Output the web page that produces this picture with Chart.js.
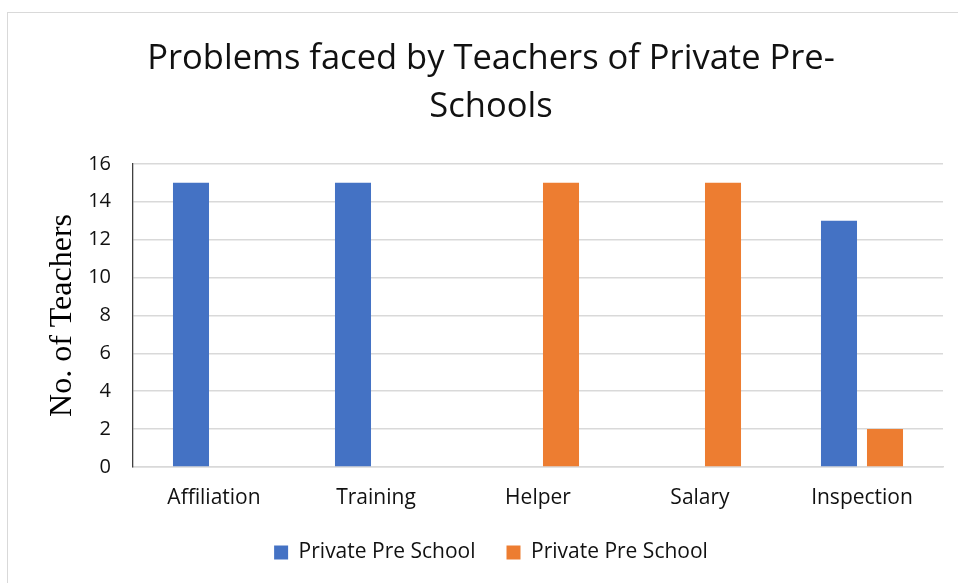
<!DOCTYPE html>
<html>
<head>
<meta charset="utf-8">
<title>Problems faced by Teachers of Private Pre-Schools</title>
<script src="https://cdn.jsdelivr.net/npm/chart.js@4.4.1/dist/chart.umd.min.js"></script>
<style>
  html, body { margin: 0; padding: 0; background: #fff; overflow: hidden; }
  #frame {
    position: absolute; left: 7px; top: 12px; width: 1000px; height: 700px;
    border-left: 1px solid #d9d9d9; border-top: 1px solid #d9d9d9;
  }
  #wrap { position: absolute; left: 0; top: 0; width: 958px; height: 583px; }
</style>
</head>
<body>
<div id="frame"></div>
<div id="wrap"><canvas id="mainCanvas" width="958" height="583"></canvas></div>
<script>
// bar chart: problems reported by private pre-school teachers

const problemLabels = ['Affiliation', 'Training', 'Helper', 'Salary', 'Inspection'];
const firstSeries = [15, 15, 0, 0, 13];
const secondSeries = [0, 0, 15, 15, 2];
const seriesNames = ['Private Pre School', 'Private Pre School'];
const yTicks = [0, 2, 4, 6, 8, 10, 12, 14, 16];

const sans = "'Open Sans', 'Noto Sans', sans-serif";
const serif = "'Liberation Serif', 'Times New Roman', serif";

document.addEventListener('DOMContentLoaded', () => {
  const ctx = document.getElementById('mainCanvas').getContext('2d');

  const config = {
    type: 'bar',
    data: {
      labels: problemLabels,
      datasets: [
        {
          label: seriesNames[0],
          data: firstSeries,
          backgroundColor: '#4472C4',
          categoryPercentage: 0.568,
          barPercentage: 0.783
        },
        {
          label: seriesNames[1],
          data: secondSeries,
          backgroundColor: '#ED7D31',
          categoryPercentage: 0.568,
          barPercentage: 0.783
        }
      ]
    },
    options: {
      responsive: false,
      animation: false,
      layout: { padding: { left: 39, right: 15, top: 0, bottom: 10 } },
      plugins: {
        tooltip: { enabled: false },
        title: {
          display: true,
          text: ['Problems faced by Teachers of Private Pre-', 'Schools'],
          color: '#111',
          font: { family: sans, size: 34.5, weight: 'normal', lineHeight: 1.39 },
          padding: { top: 35, bottom: 33 }
        },
        legend: {
          position: 'bottom',
          labels: {
            boxWidth: 14,
            boxHeight: 14,
            padding: 31,
            color: '#111',
            font: { family: sans, size: 21 }
          }
        }
      },
      scales: {
        x: {
          grid: { display: false, drawTicks: false },
          border: { color: '#d9d9d9', width: 1.5 },
          ticks: { color: '#111', padding: 18, font: { family: sans, size: 21 } },
          afterFit: (scale) => { scale.height = 44; }
        },
        y: {
          min: 0,
          max: 16,
          afterBuildTicks: (scale) => { scale.ticks = yTicks.map(v => ({ value: v })); },
          grid: { color: '#d9d9d9', lineWidth: 1.5, drawTicks: false },
          border: { color: '#404040', width: 1.3 },
          ticks: { color: '#111', padding: 22, font: { family: sans, size: 20 } },
          title: {
            display: true,
            text: 'No. of Teachers',
            color: '#000',
            font: { family: serif, size: 32 },
            padding: { top: 4, bottom: 0 }
          },
          afterFit: (scale) => { scale.width = 94; }
        }
      }
    }
  };

  new Chart(ctx, config);
});
</script>
</body>
</html>
